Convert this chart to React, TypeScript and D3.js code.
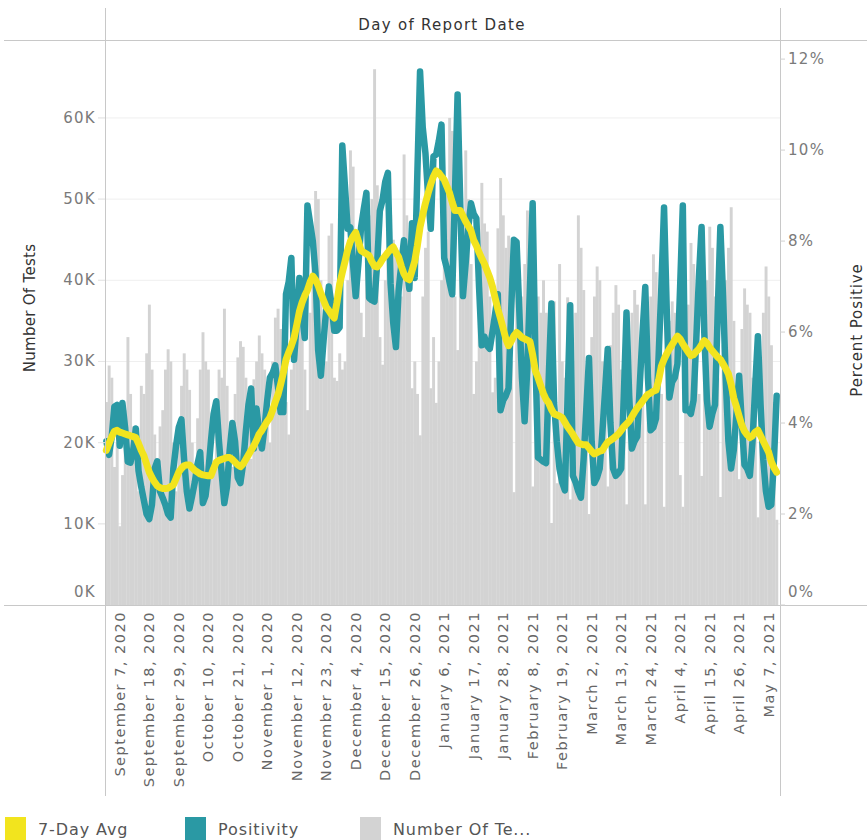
import React from "react";
import * as d3 from "d3";

// ---- DATA ----
const startDate = "2020-09-02";
// Number of tests (thousands), daily from Sep 2, 2020
const tests = [
  25, 29.5, 28, 17, 20, 9.7, 16, 24, 33, 26,
  22, 19, 14, 27, 26, 31, 37, 29, 21, 15,
  22, 24, 29, 31.5, 30, 20, 14, 21, 27, 31,
  29, 26.5, 20, 16, 23, 29, 33.6, 30, 29, 22,
  16, 25, 29, 28, 36.5, 27, 21, 17, 26, 30.5,
  32.5, 31.8, 28, 22, 18, 27.8, 30, 33.2, 31, 29,
  24, 20, 30, 35.4, 36.5, 34, 31, 25, 21, 29,
  34, 37, 38.8, 35, 29, 24, 36, 43, 51, 50,
  40, 35, 30, 45.5, 47, 28, 27.6, 31, 29, 30,
  40, 56, 54, 45, 40, 36, 33, 42, 48, 50,
  66, 51.7, 33, 29.6, 40, 46, 48, 45, 44, 40,
  38, 55.5, 48, 45, 26.7, 30, 26, 20.9, 38, 44,
  46, 26.7, 33, 24.9, 30, 40, 45, 52, 60, 58.4,
  38, 31.4, 45, 48, 56, 50, 42, 26, 30, 44,
  52, 47, 46, 38, 26.2, 28, 46.4, 52.6, 48, 44,
  45.5, 30, 13.9, 44, 40, 38, 42, 48.6, 35, 14.6,
  30, 38, 36, 40, 36, 28, 10.1, 37.4, 15, 42,
  30, 28, 37.9, 13, 30, 36, 48, 44, 38.8, 26,
  11.2, 33, 38, 41.7, 40, 30, 25, 14.6, 32, 36,
  39.4, 37, 29, 24, 12.4, 31, 36, 38.8, 37, 30,
  25, 12.4, 33, 38, 43.2, 41, 31, 26, 12.1, 30,
  35, 37.4, 36, 32, 16, 12.1, 34, 37, 44.6, 42,
  30, 26, 15.9, 34, 40, 46.6, 44, 38, 28, 13.3,
  32, 40, 44, 49, 35, 27, 15.5, 34, 39, 37,
  36, 28, 24, 10.8, 30, 36, 41.7, 38, 32, 25,
  10.5,
];
// Percent positive, daily
const positivity = [
  3.6, 3.3, 3.7, 4.36, 4.4, 3.5, 4.44, 3.9, 3.15, 3.13,
  3.4, 3.88, 2.95, 2.6, 2.3, 2.0, 1.89, 2.2, 3.0, 3.16,
  2.5, 2.36, 2.2, 2.0, 1.92, 3.0, 3.5, 3.9, 4.08, 3.2,
  2.5, 2.12, 2.4, 2.7, 3.1, 3.36, 2.24, 2.4, 2.9, 3.6,
  4.2, 4.48, 3.6, 2.9, 2.24, 2.6, 3.4, 4.0, 3.6, 2.8,
  2.68, 3.1, 3.8, 4.4, 4.76, 3.44, 4.32, 3.8, 3.44, 3.9,
  4.5, 5.0, 5.1, 5.27, 4.8, 4.24, 4.24, 6.83, 7.1, 7.63,
  5.39, 6.2, 7.19, 6.4, 5.87, 8.78, 8.4, 8.0, 7.3, 5.6,
  5.04, 5.8, 6.5, 7.0, 6.6, 6.03, 6.03, 6.1, 10.1, 9.2,
  8.27, 8.3, 7.5, 6.79, 7.5, 8.3, 8.7, 9.06, 6.75, 6.7,
  6.67, 7.5, 8.66, 8.9, 9.3, 9.5, 7.07, 6.2, 5.67, 6.9,
  7.5, 8.02, 7.4, 6.95, 8.39, 7.19, 9.5, 11.73, 10.5, 9.94,
  9.0, 8.27, 9.86, 9.9, 10.2, 10.56, 7.63, 7.4, 7.1, 6.83,
  9.0, 11.22, 8.8, 6.79, 7.5, 8.3, 8.83, 8.6, 8.5, 7.0,
  5.71, 5.9, 5.7, 5.63, 6.0, 6.4, 6.83, 4.28, 4.5, 4.6,
  4.76, 6.5, 8.03, 7.98, 6.5, 5.0, 4.04, 5.2, 7.0, 8.83,
  5.5, 3.24, 3.2, 3.15, 3.12, 5.0, 6.63, 4.44, 3.6, 3.0,
  2.7, 2.52, 4.5, 6.59, 2.84, 2.7, 2.5, 2.36, 3.2, 4.3,
  5.43, 3.6, 2.68, 2.8, 3.0, 3.8, 4.7, 5.63, 4.0, 3.0,
  2.84, 2.9, 3.0, 4.6, 6.43, 4.6, 3.44, 3.6, 3.7, 4.9,
  6.0, 6.99, 5.0, 3.84, 3.9, 4.1, 5.5, 7.0, 8.74, 6.5,
  4.56, 4.9, 5.0, 5.3, 7.0, 8.78, 4.28, 4.3, 4.2, 4.5,
  5.8, 7.2, 8.31, 6.0, 4.5, 3.92, 4.2, 4.4, 6.4, 8.31,
  6.8, 5.0, 3.6, 3.0, 3.4, 4.2, 5.04, 4.0, 3.08, 3.0,
  2.84, 3.6, 4.8, 5.91, 4.4, 3.2, 2.5, 2.16, 2.2, 3.2,
  4.6,
];
// 7-day average of percent positive, daily
const avg7 = [
  3.40, 3.55, 3.70, 3.82, 3.84, 3.80, 3.78, 3.76, 3.74, 3.72,
  3.70, 3.68, 3.55, 3.40, 3.28, 3.10, 2.92, 2.80, 2.70, 2.62,
  2.58, 2.56, 2.56, 2.57, 2.60, 2.64, 2.78, 2.92, 3.00, 3.06,
  3.08, 3.08, 3.02, 2.96, 2.92, 2.88, 2.86, 2.85, 2.84, 2.84,
  3.00, 3.14, 3.18, 3.20, 3.22, 3.24, 3.24, 3.20, 3.14, 3.08,
  3.04, 3.10, 3.20, 3.30, 3.40, 3.50, 3.62, 3.76, 3.84, 3.94,
  4.04, 4.12, 4.28, 4.46, 4.62, 4.85, 5.10, 5.39, 5.55, 5.70,
  5.87, 6.15, 6.45, 6.65, 6.80, 6.92, 7.10, 7.23, 7.15, 7.02,
  6.85, 6.70, 6.55, 6.47, 6.38, 6.31, 6.65, 7.05, 7.31, 7.55,
  7.80, 7.99, 8.10, 8.19, 8.00, 7.79, 7.75, 7.72, 7.68, 7.55,
  7.45, 7.43, 7.50, 7.60, 7.67, 7.75, 7.82, 7.87, 7.75, 7.65,
  7.45, 7.28, 7.18, 7.15, 7.35, 7.55, 7.90, 8.31, 8.58, 8.83,
  9.05, 9.25, 9.42, 9.54, 9.50, 9.42, 9.35, 9.20, 9.06, 8.85,
  8.67, 8.67, 8.67, 8.55, 8.43, 8.33, 8.23, 8.02, 7.90, 7.75,
  7.62, 7.50, 7.35, 7.20, 7.00, 6.75, 6.51, 6.30, 6.08, 5.85,
  5.70, 5.80, 5.92, 5.99, 5.94, 5.88, 5.85, 5.82, 5.79, 5.50,
  5.15, 5.00, 4.82, 4.65, 4.52, 4.44, 4.30, 4.20, 4.18, 4.15,
  4.12, 4.02, 3.92, 3.84, 3.75, 3.65, 3.56, 3.54, 3.52, 3.52,
  3.45, 3.38, 3.32, 3.35, 3.38, 3.40, 3.50, 3.58, 3.62, 3.66,
  3.71, 3.76, 3.84, 3.92, 3.98, 4.04, 4.14, 4.24, 4.33, 4.40,
  4.48, 4.56, 4.63, 4.66, 4.70, 4.72, 4.95, 5.25, 5.40, 5.52,
  5.63, 5.72, 5.82, 5.91, 5.85, 5.74, 5.65, 5.56, 5.48, 5.50,
  5.57, 5.63, 5.72, 5.81, 5.76, 5.66, 5.59, 5.52, 5.45, 5.40,
  5.30, 5.20, 5.08, 4.85, 4.55, 4.36, 4.15, 3.95, 3.82, 3.74,
  3.68, 3.72, 3.80, 3.84, 3.72, 3.60, 3.48, 3.36, 3.15, 3.02,
  2.92,
];
const dateTickLabels = [
  "September 7, 2020", "September 18, 2020", "September 29, 2020",
  "October 10, 2020", "October 21, 2020", "November 1, 2020",
  "November 12, 2020", "November 23, 2020", "December 4, 2020",
  "December 15, 2020", "December 26, 2020", "January 6, 2021",
  "January 17, 2021", "January 28, 2021", "February 8, 2021",
  "February 19, 2021", "March 2, 2021", "March 13, 2021",
  "March 24, 2021", "April 4, 2021", "April 15, 2021",
  "April 26, 2021", "May 7, 2021",
];
const testTicks = [0, 10, 20, 30, 40, 50, 60];
const pctTicks = [0, 2, 4, 6, 8, 10, 12];
const legendItems = [
  { label: "7-Day Avg", color: "#f2e41e" },
  { label: "Positivity", color: "#2a99a4" },
  { label: "Number Of Te...", color: "#d3d3d3" },
];

// ---- LAYOUT ----
const W = 867;
const H = 840;
const L = 105;
const R = 778;
const T = 40;
const B = 605;
const FONT = "'DejaVu Sans', sans-serif";

export default function App() {
  const start = d3.timeParse("%Y-%m-%d")(startDate) as Date;
  const n = tests.length;
  const days = tests.map((_, i) => d3.timeDay.offset(start, i));
  const x = d3
    .scaleTime()
    .domain([start, d3.timeDay.offset(start, n)])
    .range([L, R]);
  const center = (d: Date) => x(d3.timeHour.offset(d, 12));
  const yT = d3.scaleLinear().domain([0, 69.6]).range([B, T]);
  const yP = d3.scaleLinear().domain([0, 12.42]).range([B, T]);

  const posLine = d3
    .line<number>()
    .x((_, i) => center(days[i]))
    .y((v) => yP(v));

  const parse = d3.timeParse("%B %d, %Y");

  return (
    <svg
      width={W}
      height={H}
      style={{ position: "absolute", left: 0, top: 0, background: "#fff" }}
      fontFamily={FONT}
    >
      {/* gridlines */}
      {testTicks
        .filter((t) => t > 0)
        .map((t) => (
          <line key={"g" + t} x1={L - 7} x2={780} y1={yT(t)} y2={yT(t)} stroke="#efefef" strokeWidth={1} />
        ))}
      {/* bars */}
      {tests.map((v, i) => {
        const x0 = x(days[i]);
        const x1 = x(d3.timeDay.offset(days[i], 1));
        return (
          <rect
            key={"b" + i}
            x={x0}
            y={yT(v)}
            width={x1 - x0 + 0.25}
            height={B - yT(v)}
            fill="#d3d3d3"
          />
        );
      })}
      {/* positivity line */}
      <path
        d={posLine(positivity) || ""}
        fill="none"
        stroke="#2a99a4"
        strokeWidth={6.5}
        strokeLinejoin="round"
        strokeLinecap="round"
      />
      {/* 7 day avg */}
      <path
        d={posLine(avg7) || ""}
        fill="none"
        stroke="#f2e41e"
        strokeWidth={7}
        strokeLinejoin="round"
        strokeLinecap="round"
      />

      {/* frame lines */}
      <line x1={4} x2={W} y1={40.5} y2={40.5} stroke="#c8c8c8" />
      <line x1={4} x2={W} y1={B + 0.5} y2={B + 0.5} stroke="#c8c8c8" />
      <line x1={105.5} x2={105.5} y1={8} y2={796} stroke="#c8c8c8" />
      <line x1={780.5} x2={780.5} y1={8} y2={796} stroke="#c8c8c8" />

      {/* header */}
      <text x={442} y={25} textAnchor="middle" dominantBaseline="central" fontSize={15} letterSpacing={1.3} fill="#333">
        Day of Report Date
      </text>

      {/* left axis */}
      {testTicks.map((t) => (
        <g key={"lt" + t}>
          {t > 0 && <line x1={98} x2={105} y1={yT(t)} y2={yT(t)} stroke="#e6e6e6" />}
          <text
            x={96}
            y={t === 0 ? 592 : yT(t)}
            textAnchor="end"
            dominantBaseline="central"
            fontSize={15}
            letterSpacing={1.3}
            fill="#7a7a7a"
          >
            {t + "K"}
          </text>
        </g>
      ))}
      <text
        transform={`translate(30,308) rotate(-90)`}
        textAnchor="middle"
        dominantBaseline="central"
        fontSize={15}
        letterSpacing={0.3}
        fill="#333"
      >
        Number Of Tests
      </text>

      {/* right axis */}
      {pctTicks.map((t) => (
        <g key={"rt" + t}>
          <line x1={780} x2={785} y1={yP(t)} y2={yP(t)} stroke="#d0d0d0" />
          <text
            x={788}
            y={t === 0 ? 592 : yP(t)}
            textAnchor="start"
            dominantBaseline="central"
            fontSize={15}
            letterSpacing={1.3}
            fill="#7a7a7a"
          >
            {t + "%"}
          </text>
        </g>
      ))}
      <text
        transform={`translate(857,330) rotate(-90)`}
        textAnchor="middle"
        dominantBaseline="central"
        fontSize={15}
        letterSpacing={0.9}
        fill="#333"
      >
        Percent Positive
      </text>

      {/* date labels */}
      {dateTickLabels.map((lab) => {
        const d = parse(lab) as Date;
        const cx = center(d);
        return (
          <text
            key={lab}
            transform={`translate(${cx},611) rotate(-90)`}
            textAnchor="end"
            dominantBaseline="central"
            fontSize={14.5}
            letterSpacing={1.5}
            fill="#666"
          >
            {lab}
          </text>
        );
      })}

      {/* legend */}
      {legendItems.map((it, i) => {
        const lx = [5, 185, 360][i];
        return (
          <g key={it.label}>
            <rect x={lx} y={817} width={21} height={23} fill={it.color} />
            <text x={lx + 33} y={829} dominantBaseline="central" fontSize={16} letterSpacing={0.9} fill="#555">
              {it.label}
            </text>
          </g>
        );
      })}
    </svg>
  );
}
